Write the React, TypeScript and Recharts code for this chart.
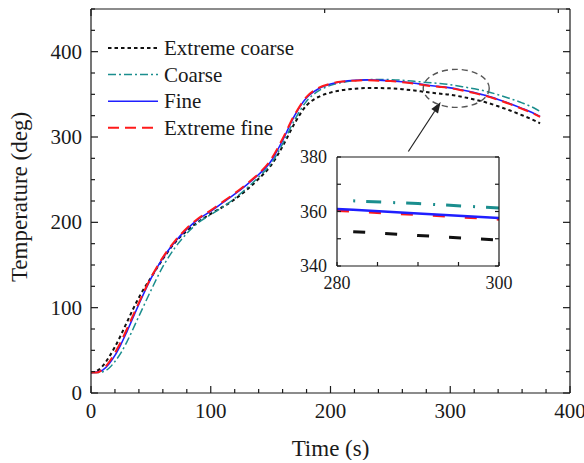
import { LineChart, Line, XAxis, YAxis, ReferenceDot, ReferenceLine } from "recharts";

const FONT = "'Liberation Serif', 'Times New Roman', serif";
const INK = "#1a1a1a";

// main chart (time in s, temperature in deg)
const time = [0, 5, 10, 15, 20, 25, 30, 40, 50, 60, 70, 80, 90, 100, 110, 120, 130, 140, 150, 160, 170, 180, 190, 200, 210, 220, 230, 240, 250, 260, 270, 280, 290, 300, 310, 320, 330, 340, 350, 360, 370, 375];
const extremeCoarse = [24, 26, 32, 42, 54, 68, 83, 112, 135, 157, 176, 190, 201, 210, 218, 227, 238, 251, 266, 289, 316, 337, 347, 352, 355, 356.5, 357.3, 357.3, 357, 356, 354.5, 352.6, 351, 349.5, 347, 344, 340.5, 336, 331, 325.5, 319.5, 316];
const coarse = [24, 24, 25, 29, 37, 47, 60, 90, 120, 148, 170, 187, 200, 209, 218, 228, 240, 253, 268, 292, 320, 342, 354, 360.5, 364, 366, 367, 367.5, 367.2, 366.5, 365.3, 364, 362.8, 361.3, 359, 356.5, 353.5, 349.5, 345, 340, 334, 330];
const fine = [24, 24.5, 27, 34, 44, 57, 72, 104, 134, 158, 177, 192, 204, 213, 223, 233, 244, 256, 271, 296, 325, 346, 356.5, 362, 365, 366.5, 367, 366.5, 366, 364.7, 363, 361, 359.3, 357.6, 355, 352, 348.5, 344, 339, 333.5, 327.5, 324];
const extremeFine = [24, 24, 28, 36, 47, 60, 75, 106, 135, 159, 178, 193, 205, 214, 224, 234, 245, 257, 273, 298, 326, 347, 357.5, 362.5, 365, 366, 366.5, 366, 365.5, 364.2, 362.5, 360.4, 358.9, 357.2, 354.5, 351.5, 348, 343.5, 338.5, 333, 327, 323.5];

// inset (zoom on 280-300 s)
const insetTime = [280, 282, 290, 300];
const insetExtremeCoarse = [null, 352.6, 351.2, 349.5];
const insetCoarse = [null, 363.9, 362.9, 361.3];
const insetFine = [360.9, 360.6, 359.3, 357.6];
const insetExtremeFine = [360.4, 360.1, 358.9, 357.2];

const xTicks = [0, 20, 40, 60, 80, 100, 120, 140, 160, 180, 200, 220, 240, 260, 280, 300, 320, 340, 360, 380, 400];
const xLabels = [0, 100, 200, 300, 400];
const yTicks = [0, 25, 50, 75, 100, 125, 150, 175, 200, 225, 250, 275, 300, 325, 350, 375, 400, 425, 450];
const yLabels = [0, 100, 200, 300, 400];
const insetXTicks = [280, 285, 290, 295, 300];
const insetXLabels = [280, 300];
const insetYTicks = [340, 350, 360, 370, 380];
const insetYLabels = [340, 360, 380];

const series = [
  { key: "extremeCoarse", name: "Extreme coarse", color: "#111111", dash: "3.5 3", width: 2, insetDash: "12 20" },
  { key: "coarse", name: "Coarse", color: "#1b8e8e", dash: "8 3 2 3", width: 1.5, insetDash: "2 11 15 12" },
  { key: "fine", name: "Fine", color: "#1f1fff", dash: undefined, width: 1.6, insetDash: undefined },
  { key: "extremeFine", name: "Extreme fine", color: "#ff1a1a", dash: "11 6", width: 2, insetDash: "12 20" },
];

const rows = time.map((t, i) => ({
  t,
  extremeCoarse: extremeCoarse[i],
  coarse: coarse[i],
  fine: fine[i],
  extremeFine: extremeFine[i],
}));

const insetRows = insetTime.map((t, i) => ({
  t,
  extremeCoarse: insetExtremeCoarse[i],
  coarse: insetCoarse[i],
  fine: insetFine[i],
  extremeFine: insetExtremeFine[i],
}));

type Side = "bottom" | "top" | "left" | "right";

function makeTick(side: Side, labels: number[], major: number, minor: number, fontSize: number, gap: number) {
  return (props: any) => {
    const { x, y, payload } = props;
    const v = payload.value;
    const labelled = labels.includes(v);
    const len = labelled ? major : minor;
    let x2 = x;
    let y2 = y;
    if (side === "bottom") y2 = y - len;
    if (side === "top") y2 = y + len;
    if (side === "left") x2 = x + len;
    if (side === "right") x2 = x - len;
    let label = null;
    if (labelled && side === "bottom") {
      label = (
        <text x={x} y={y + gap} textAnchor="middle" fontSize={fontSize} fontFamily={FONT} fill={INK}>
          {v}
        </text>
      );
    }
    if (labelled && side === "left") {
      label = (
        <text x={x - gap} y={y + fontSize * 0.34} textAnchor="end" fontSize={fontSize} fontFamily={FONT} fill={INK}>
          {v}
        </text>
      );
    }
    return (
      <g>
        <line x1={x} y1={y} x2={x2} y2={y2} stroke={INK} strokeWidth={1.2} />
        {label}
      </g>
    );
  };
}

function Arrow(props: any) {
  const { x1, y1, x2, y2 } = props;
  const dx = x2 - x1;
  const dy = y2 - y1;
  const l = Math.sqrt(dx * dx + dy * dy) || 1;
  const ux = dx / l;
  const uy = dy / l;
  const bx = x2 - ux * 11;
  const by = y2 - uy * 11;
  const pts = `${x2},${y2} ${bx - uy * 4},${by + ux * 4} ${bx + uy * 4},${by - ux * 4}`;
  return (
    <g>
      <line x1={x1} y1={y1} x2={bx} y2={by} stroke="#222" strokeWidth={1.2} />
      <polygon points={pts} fill="#222" />
    </g>
  );
}

function Zoomed(props: any) {
  const { cx, cy } = props;
  return <ellipse cx={cx} cy={cy} rx={33} ry={19} fill="none" stroke="#555" strokeWidth={1.4} strokeDasharray="6 4" />;
}

function Inset() {
  return (
    <div style={{ position: "absolute", left: 290, top: 140 }}>
      <LineChart width={230} height={160} data={insetRows} margin={{ top: 0, right: 0, bottom: 0, left: 0 }}>
        <XAxis xAxisId="b" dataKey="t" type="number" domain={[280, 300]} ticks={insetXTicks} interval={0} height={34} tickSize={0} tickMargin={0} allowDataOverflow axisLine={{ stroke: INK, strokeWidth: 1.2 }} tickLine={false} tick={makeTick("bottom", insetXLabels, 4, 4, 18, 23)} />
        <XAxis xAxisId="t" orientation="top" type="number" domain={[280, 300]} ticks={insetXTicks} interval={0} height={17} tickSize={0} tickMargin={0} allowDataOverflow axisLine={{ stroke: INK, strokeWidth: 1.2 }} tickLine={false} tick={makeTick("top", [], 4, 4, 18, 0)} />
        <YAxis yAxisId="l" type="number" domain={[340, 380]} ticks={insetYTicks} interval={0} width={47} tickSize={0} tickMargin={0} allowDataOverflow axisLine={{ stroke: INK, strokeWidth: 1.2 }} tickLine={false} tick={makeTick("left", insetYLabels, 4, 4, 18, 10)} />
        <YAxis yAxisId="r" orientation="right" type="number" domain={[340, 380]} ticks={insetYTicks} interval={0} width={21} tickSize={0} tickMargin={0} allowDataOverflow axisLine={{ stroke: INK, strokeWidth: 1.2 }} tickLine={false} tick={makeTick("right", [], 4, 4, 18, 0)} />
        {[series[0], series[1], series[3], series[2]].map((s) => (
          <Line
            key={s.key}
            xAxisId="b"
            yAxisId="l"
            type="linear"
            dataKey={s.key}
            stroke={s.color}
            strokeWidth={s.key === "fine" ? 2.5 : 3}
            strokeDasharray={s.insetDash}
            dot={false}
            activeDot={false}
            isAnimationActive={false}
          />
        ))}
      </LineChart>
    </div>
  );
}

function LegendBox() {
  return (
    <svg width={584} height={460} style={{ position: "absolute", left: 0, top: 0, pointerEvents: "none" }}>
      {series.map((s, i) => {
        const y = 48 + i * 26.6;
        return (
          <g key={s.key}>
            <line x1={108} y1={y} x2={158} y2={y} stroke={s.color} strokeWidth={s.width} strokeDasharray={s.dash} />
            <text x={164} y={y + 7} fontSize={21} fontFamily={FONT} fill={INK}>
              {s.name}
            </text>
          </g>
        );
      })}
    </svg>
  );
}

export default function App() {
  return (
    <div style={{ position: "absolute", left: 0, top: 0, width: 584, height: 460, background: "#fff" }}>
      <LineChart width={584} height={460} data={rows} margin={{ top: 0, right: 0, bottom: 0, left: 0 }}>
        <XAxis
          xAxisId="b"
          dataKey="t"
          type="number"
          domain={[0, 400]}
          ticks={xTicks}
          interval={0}
          height={67}
          tickSize={0}
          tickMargin={0}
          allowDataOverflow
          axisLine={{ stroke: INK, strokeWidth: 1.2 }}
          tickLine={false}
          tick={makeTick("bottom", xLabels, 7, 4, 21, 25)}
          label={{
            content: (p: any) => (
              <text x={p.viewBox.x + p.viewBox.width / 2} y={p.viewBox.y + 63} textAnchor="middle" fontSize={23} fontFamily={FONT} fill={INK}>
                Time (s)
              </text>
            ),
          }}
        />
        <XAxis xAxisId="t" orientation="top" type="number" domain={[0, 400]} ticks={xTicks} interval={0} height={9} tickSize={0} tickMargin={0} allowDataOverflow axisLine={{ stroke: INK, strokeWidth: 1.2 }} tickLine={false} tick={makeTick("top", xLabels, 7, 4, 21, 0)} />
        <YAxis
          yAxisId="l"
          type="number"
          domain={[0, 450]}
          ticks={yTicks}
          interval={0}
          width={91}
          tickSize={0}
          tickMargin={0}
          allowDataOverflow
          axisLine={{ stroke: INK, strokeWidth: 1.2 }}
          tickLine={false}
          tick={makeTick("left", yLabels, 7, 4, 21, 9)}
          label={{
            content: (p: any) => {
              const cx = p.viewBox.x + 27;
              const cy = p.viewBox.y + p.viewBox.height / 2 - 4;
              return (
                <text x={cx} y={cy} transform={`rotate(-90, ${cx}, ${cy})`} textAnchor="middle" fontSize={23} fontFamily={FONT} fill={INK}>
                  Temperature (deg)
                </text>
              );
            },
          }}
        />
        <YAxis yAxisId="r" orientation="right" type="number" domain={[0, 450]} ticks={yTicks} interval={0} width={14} tickSize={0} tickMargin={0} allowDataOverflow axisLine={{ stroke: INK, strokeWidth: 1.2 }} tickLine={false} tick={makeTick("right", yLabels, 7, 4, 21, 0)} />
        {series.map((s) => (
          <Line
            key={s.key}
            xAxisId="b"
            yAxisId="l"
            type="monotone"
            dataKey={s.key}
            stroke={s.color}
            strokeWidth={s.width}
            strokeDasharray={s.dash}
            dot={false}
            activeDot={false}
            isAnimationActive={false}
          />
        ))}
        <ReferenceDot xAxisId="b" yAxisId="l" x={305} y={357} shape={Zoomed} />
        <ReferenceLine
          xAxisId="b"
          yAxisId="l"
          segment={[
            { x: 265, y: 283 },
            { x: 292, y: 341 },
          ]}
          shape={Arrow}
        />
      </LineChart>
      <LegendBox />
      <Inset />
    </div>
  );
}
